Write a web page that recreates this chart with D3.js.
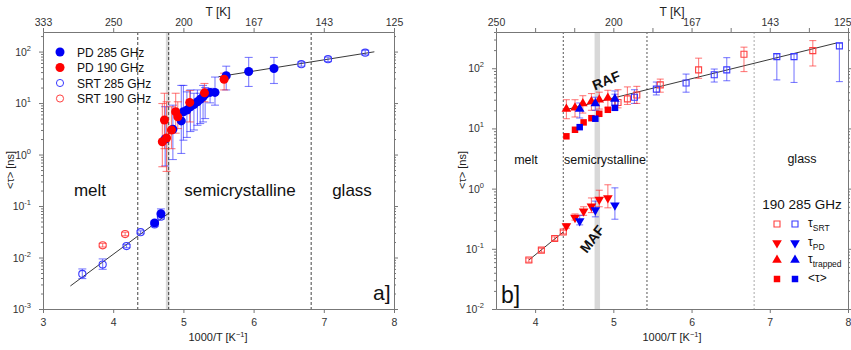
<!DOCTYPE html>
<html>
<head>
<meta charset="utf-8">
<script src="https://cdn.jsdelivr.net/npm/d3@7"></script>
<style>
  body { margin: 0; background: #fff; }
  text { font-family: "Liberation Sans", Arial, sans-serif; }
</style>
</head>
<body>
<svg id="chart" width="851" height="350"></svg>
<script>
// ---- panel a] data: [1000/T, tau, errLow, errHigh]
const aPd285 = [
  [4.59, 0.047, 0.043, 0.052], [4.68, 0.071, 0.062, 0.088],
  [4.74, 2.0, 0.6, 8.5], [4.85, 3.1, 0.8, 9.1], [4.97, 4.5, 1.05, 22],
  [5.00, 6.8, 1.9, 22], [5.05, 7.3, 2.15, 16.5], [5.10, 8.5, 2.8, 18],
  [5.15, 9.4, 3.0, 15.5], [5.20, 10.6, 3.7, 18], [5.24, 11.8, 4.0, 15.5],
  [5.28, 13.2, 4.3, 22], [5.31, 14.8, 5.0, 20], [5.38, 16.1, 10.1, 19.3],
  [5.45, 16.1, 9.1, 32], [5.61, 34, 18, 52], [5.93, 41, 21, 77], [6.29, 47, 24, 77]
];
const aPd190 = [
  [4.70, 1.77, 0.58, 9.8], [4.73, 4.7, 1.3, 15.5], [4.76, 2.1, 0.47, 10.6],
  [4.83, 3.0, 1.3, 8.5], [4.89, 6.8, 2.6, 15.5], [4.92, 5.4, 3.2, 10.6],
  [5.09, 10.3, 4.3, 17.5], [5.30, 15.8, 10.6, 24], [5.58, 29, 18, 38]
];
const aSrt285 = [
  [3.56, 0.0048, 0.0039, 0.0060], [3.85, 0.0073, 0.0059, 0.0094],
  [4.19, 0.0167, 0.0155, 0.018], [4.39, 0.031, 0.029, 0.033],
  [4.59, 0.044, 0.040, 0.050], [4.68, 0.062, 0.056, 0.068],
  [6.68, 57, 52, 63], [7.06, 71, 64, 78], [7.59, 95, 86, 106]
];
const aSrt190 = [[3.85, 0.0173, 0.016, 0.0188], [4.17, 0.0286, 0.0265, 0.031]];
const aFitLow = [[3.39, 0.0028], [4.80, 0.074]];
const aFitHigh = [[5.50, 32.5], [7.72, 99]];
const aDashed = [4.35, 4.79, 6.82];
const aBand = [4.75, 4.80];
const aTopTicks = [3, 4, 5, 6, 7, 8];
const aTopLabels = ["333", "250", "200", "167", "143", "125"];
const aBottomTicks = [3, 4, 5, 6, 7, 8];
const aLegend = ["PD 285 GHz", "PD 190 GHz", "SRT 285 GHz", "SRT 190 GHz"];

// ---- panel b] data
const bSrt190 = [
  [3.92, 0.065, 0.060, 0.070], [4.08, 0.095, 0.088, 0.102], [4.25, 0.148, 0.138, 0.158],
  [4.36, 0.19, 0.177, 0.203], [5.06, 27, 22, 44], [5.18, 31, 25, 49], [5.30, 36, 26, 50],
  [5.60, 53, 40, 66], [6.09, 94, 68, 147], [6.67, 171, 88, 224], [7.55, 196, 109, 288]
];
const bSrt285 = [
  [5.02, 27, 21, 37], [5.27, 33, 26, 44], [5.55, 45, 36, 59], [5.93, 57, 40, 80],
  [6.29, 78, 59, 97], [6.45, 94, 62, 150], [7.09, 156, 64, 174], [7.31, 156, 58, 174],
  [7.89, 235, 60, 262]
];
const bPd190 = [
  [4.40, 0.24, 0.22, 0.26], [4.51, 0.33, 0.30, 0.38], [4.62, 0.42, 0.36, 0.50],
  [4.72, 0.51, 0.40, 0.70], [4.82, 0.66, 0.50, 0.94], [4.93, 0.70, 0.48, 1.16]
];
const bPd285 = [[4.57, 0.29, 0.25, 0.36], [4.77, 0.44, 0.34, 0.62], [5.02, 0.53, 0.31, 1.03]];
const bTrap190 = [
  [4.40, 21, 14.5, 30], [4.51, 22, 15.5, 30], [4.61, 26, 18, 35],
  [4.72, 28, 20, 38], [4.82, 30, 21, 40], [4.93, 32, 22, 43]
];
const bTrap285 = [[4.57, 21, 14.9, 26.5], [4.77, 26, 20, 33], [5.02, 31, 20, 42]];
const bMean190 = [[4.40, 7.4], [4.51, 9.5], [4.62, 12.6], [4.72, 14.8], [4.82, 17.5], [4.93, 20.4]];
const bMean285 = [[4.57, 10.5], [4.77, 14.5], [5.02, 22]];
const bFitLow = [[3.92, 0.065], [4.36, 0.19]];
const bFitHigh = [[4.36, 20], [7.85, 262]];
const bDashed = [4.36, 5.43, 6.8];
const bBand = [4.76, 4.83];
const bTopTicks = [3.5, 4, 4.5, 5, 5.5, 6, 6.5, 7, 7.5, 8];
const bTopLabels = {3.5: "250", 5: "200", 6: "167", 7: "143", 8: "125"};
const bBottomTicks = [4, 5, 6, 7, 8];

const BLUE = "#0000f5", RED = "#ff0000";
const BLUE_ERR = "rgba(40,40,255,0.6)", RED_ERR = "rgba(255,40,40,0.6)";
const AXIS = "#777", TOP = 32, BOTTOM = 309;

const svg = d3.select("#chart");

function panel(xDomain, xRange, yDomain) {
  const x = d3.scaleLinear().domain(xDomain).range(xRange);
  const y = d3.scaleLog().domain(yDomain).range([BOTTOM, TOP]);
  const g = svg.append("g");
  return {x, y, g};
}

function styleAxis(sel) {
  sel.select(".domain").attr("stroke", AXIS);
  sel.selectAll(".tick line").attr("stroke", AXIS);
  sel.selectAll(".tick text").attr("fill", "#333").attr("font-size", 10.5)
    .attr("font-family", "Liberation Sans, Arial, sans-serif");
}

function axes(p, bottomTicks, topTicks, topFmt) {
  const {x, y, g} = p;
  g.append("g").attr("transform", `translate(0,${BOTTOM})`)
    .call(d3.axisBottom(x).tickValues(bottomTicks).tickSize(4).tickSizeOuter(0).tickPadding(6).tickFormat(d3.format("d")))
    .call(styleAxis);
  const top = g.append("g").attr("transform", `translate(0,${TOP})`)
    .call(d3.axisTop(x).tickValues(topTicks).tickSize(4).tickSizeOuter(0).tickPadding(2).tickFormat(topFmt))
    .call(styleAxis);
  // keep the last top label inside the page
  top.selectAll(".tick text").filter(d => x(d) > 840).attr("text-anchor", "end").attr("dx", 3);

  const [lo, hi] = y.domain();
  const majors = [], minors = [];
  for (let e = Math.floor(Math.log10(lo)); e <= Math.ceil(Math.log10(hi)); e++) {
    for (let m = 1; m < 10; m++) {
      const v = m * Math.pow(10, e);
      if (v < lo * 0.999 || v > hi) continue;
      (m === 1 ? majors : minors).push(v);
    }
  }
  const x0 = x.range()[0], x1 = x.range()[1];
  [[d3.axisLeft, x0], [d3.axisRight, x1]].forEach(([ax, px]) => {
    g.append("g").attr("transform", `translate(${px},0)`)
      .call(ax(y).tickValues(majors).tickSize(4).tickSizeOuter(0).tickFormat(""))
      .call(styleAxis);
    g.append("g").attr("transform", `translate(${px},0)`)
      .call(ax(y).tickValues(minors).tickSize(2).tickSizeOuter(0).tickFormat(""))
      .call(styleAxis);
  });
  const lab = g.append("g").selectAll("text").data(majors).join("text")
    .attr("x", x0 - 12).attr("y", d => y(d) + 4)
    .attr("text-anchor", "end").attr("font-size", 10.5).attr("fill", "#333");
  lab.append("tspan").text("10");
  lab.append("tspan").attr("dy", -5).attr("font-size", 7.5).text(d => Math.round(Math.log10(d)));
}

function guides(p, dashed, band, dash, colors) {
  const {x, g} = p;
  g.append("rect").attr("x", x(band[0])).attr("width", x(band[1]) - x(band[0]))
    .attr("y", TOP).attr("height", BOTTOM - TOP).attr("fill", "#d8d8d8");
  g.selectAll(".vline").data(dashed).join("line").attr("class", "vline")
    .attr("x1", d => x(d)).attr("x2", d => x(d)).attr("y1", TOP).attr("y2", BOTTOM)
    .attr("stroke", (d, i) => colors[i]).attr("stroke-width", 1).attr("stroke-dasharray", dash);
}

function fitLine(p, pts) {
  p.g.append("path").datum(pts)
    .attr("d", d3.line().x(d => p.x(d[0])).y(d => p.y(d[1])))
    .attr("fill", "none").attr("stroke", "#222").attr("stroke-width", 0.9);
}

function errBars(p, data, color, cap) {
  const {x, y, g} = p;
  const e = g.append("g").attr("stroke", color).attr("stroke-width", 1.1);
  data.forEach(d => {
    e.append("line").attr("x1", x(d[0])).attr("x2", x(d[0])).attr("y1", y(d[2])).attr("y2", y(d[3]));
    [d[2], d[3]].forEach(v => e.append("line")
      .attr("x1", x(d[0]) - cap).attr("x2", x(d[0]) + cap).attr("y1", y(v)).attr("y2", y(v)));
  });
}

function marks(p, data, type, size, fill, stroke, rot) {
  const {x, y, g} = p;
  g.append("g").selectAll("path").data(data).join("path")
    .attr("d", d3.symbol().type(type).size(size))
    .attr("transform", d => `translate(${x(d[0])},${y(d[1])})${rot ? " rotate(180)" : ""}`)
    .attr("fill", fill).attr("stroke", stroke).attr("stroke-width", stroke === "none" ? 0 : 1.1);
}

function titles(p, cx, txt) {
  const {g} = p;
  g.append("text").attr("x", cx).attr("y", 16).attr("text-anchor", "middle")
    .attr("font-size", 12).attr("fill", "#222").text("T [K]");
  const xt = g.append("text").attr("x", cx).attr("y", 341).attr("text-anchor", "middle")
    .attr("font-size", 11).attr("fill", "#222");
  xt.append("tspan").text("1000/T [K");
  xt.append("tspan").attr("dy", -4).attr("font-size", 7.5).text("\u22121");
  xt.append("tspan").attr("dy", 4).text("]");
  g.append("text").attr("transform", `translate(${txt},170) rotate(-90)`)
    .attr("text-anchor", "middle").attr("font-size", 11).attr("fill", "#222").text("<\u03c4> [ns]");
}

function label(g, x, y, size, txt, opts = {}) {
  return g.append("text").attr("x", x).attr("y", y).attr("font-size", size)
    .attr("text-anchor", opts.anchor || "middle").attr("font-weight", opts.bold ? "bold" : null)
    .attr("transform", opts.rot ? `rotate(${opts.rot},${x},${y})` : null)
    .attr("fill", "#111").text(txt);
}

// ================= panel a]
const A = panel([3, 8], [43, 394], [0.001, 240]);
guides(A, aDashed, aBand, "3,2", ["#444", "#444", "#444"]);
fitLine(A, aFitLow);
fitLine(A, aFitHigh);
errBars(A, aSrt285, BLUE_ERR, 4);
errBars(A, aSrt190, RED_ERR, 4);
errBars(A, aPd285, BLUE_ERR, 4);
errBars(A, aPd190, RED_ERR, 4);
marks(A, aSrt285, d3.symbolCircle, 40, "none", "#3a3aff");
marks(A, aSrt190, d3.symbolCircle, 40, "none", "#ff4040");
marks(A, aPd285, d3.symbolCircle, 64, BLUE, "none");
marks(A, aPd190, d3.symbolCircle, 64, RED, "none");
axes(A, aBottomTicks, aTopTicks, (d, i) => aTopLabels[i]);
titles(A, 218, 14);
label(A.g, 90, 196, 17, "melt");
label(A.g, 240, 196, 17, "semicrystalline");
label(A.g, 352, 196, 17, "glass");
label(A.g, 373, 300, 21, "a]", {anchor: "start"});

const legA = A.g.append("g").selectAll("g").data(aLegend).join("g")
  .attr("transform", (d, i) => `translate(60,${52 + i * 15.5})`);
legA.append("path").attr("d", (d, i) => d3.symbol().type(d3.symbolCircle).size(i < 2 ? 64 : 40)())
  .attr("fill", (d, i) => i === 0 ? BLUE : i === 1 ? RED : "none")
  .attr("stroke", (d, i) => i === 2 ? "#3a3aff" : i === 3 ? "#ff4040" : "none");
legA.append("text").attr("x", 17).attr("y", 4.5).attr("font-size", 12).attr("fill", "#111").text(d => d);

// ================= panel b]
const B = panel([3.5, 8], [496, 848], [0.01, 400]);
guides(B, bDashed, bBand, "2,2", ["#555", "#555", "#aaa"]);
fitLine(B, bFitLow);
fitLine(B, bFitHigh);
errBars(B, bSrt285, BLUE_ERR, 3.5);
errBars(B, bSrt190, RED_ERR, 3.5);
errBars(B, bTrap190, RED_ERR, 3.5);
errBars(B, bTrap285, BLUE_ERR, 3.5);
errBars(B, bPd190, RED_ERR, 3.5);
errBars(B, bPd285, BLUE_ERR, 3.5);
marks(B, bSrt190, d3.symbolSquare, 36, "none", "#ff4040");
marks(B, bSrt285, d3.symbolSquare, 36, "none", "#3a3aff");
marks(B, bTrap190, d3.symbolTriangle, 40, RED, "none");
marks(B, bTrap285, d3.symbolTriangle, 40, BLUE, "none");
marks(B, bMean190, d3.symbolSquare, 42, RED, "none");
marks(B, bMean285, d3.symbolSquare, 42, BLUE, "none");
marks(B, bPd190, d3.symbolTriangle, 40, RED, "none", true);
marks(B, bPd285, d3.symbolTriangle, 40, BLUE, "none", true);
axes(B, bBottomTicks, bTopTicks, d => bTopLabels[d] || "");
titles(B, 672, 466);
label(B.g, 526, 164, 12.5, "melt");
label(B.g, 605, 164, 12.5, "semicrystalline");
label(B.g, 802, 163, 12.5, "glass");
label(B.g, 608, 85, 14, "RAF", {bold: true, rot: -22});
label(B.g, 596, 242, 14, "MAF", {bold: true, rot: -52});
label(B.g, 501, 303, 23, "b]", {anchor: "start"});

// legend b]
label(B.g, 802, 209, 13.5, "190  285 GHz");
const legRows = [
  {sym: d3.symbolSquare, size: 36, open: true, rot: false, name: "\u03c4", sub: "SRT"},
  {sym: d3.symbolTriangle, size: 40, open: false, rot: true, name: "\u03c4", sub: "PD"},
  {sym: d3.symbolTriangle, size: 40, open: false, rot: false, name: "\u03c4", sub: "trapped"},
  {sym: d3.symbolSquare, size: 42, open: false, rot: false, name: "<\u03c4>", sub: ""}
];
const legY = [224, 243, 260, 279];
const legB = B.g.append("g").selectAll("g").data(legRows).join("g")
  .attr("transform", (d, i) => `translate(0,${legY[i]})`);
[[777, RED, "#ff4040"], [795, BLUE, "#3a3aff"]].forEach(([cx, fill, line]) => {
  legB.append("path").attr("d", d => d3.symbol().type(d.sym).size(d.size)())
    .attr("transform", d => `translate(${cx},0)${d.rot ? " rotate(180)" : ""}`)
    .attr("fill", d => d.open ? "none" : fill)
    .attr("stroke", d => d.open ? line : "none").attr("stroke-width", 1.1);
});
const lt = legB.append("text").attr("x", 808).attr("y", 3).attr("font-size", 12).attr("fill", "#111");
lt.append("tspan").text(d => d.name);
lt.append("tspan").attr("dy", 4).attr("font-size", 8.5).text(d => d.sub);
</script>
</body>
</html>
